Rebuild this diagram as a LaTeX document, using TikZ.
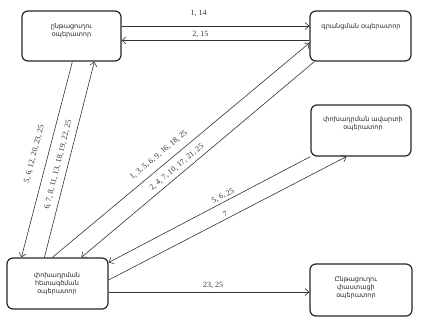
\documentclass[tikz,border=0pt]{standalone}
\usepackage{fontspec}
\setmainfont{Liberation Serif}
\newfontfamily\armfont{DejaVu Sans}
\usetikzlibrary{arrows.meta,calc}
\begin{document}
\begin{tikzpicture}[x=1pt,y=-1pt,
  box/.style={draw=black!85, line width=1.2pt, rounded corners=6pt, inner sep=0pt},
  txt/.style={font=\armfont\fontsize{6.5}{8}\selectfont, align=center, inner sep=0pt, text=black!85},
  conn/.style={draw=black!80, line width=0.6pt, -{Straight Barb[length=4pt,width=7pt]}},
  lab/.style={font=\fontsize{8}{9}\selectfont, inner sep=1pt, text=black!80}]
\useasboundingbox (0,0) rectangle (422,321);
% boxes
\node[box, minimum width=99pt, minimum height=50pt] (A) at (71.5,36) {};
\node[txt] (At) at (71.5,30.5) {ընթացուղու\\օպերատոր};
\node[box, minimum width=101pt, minimum height=50pt] (B) at (360.5,36) {};
\node[txt] (Bt) at (361,27) {գրանցման օպերատոր};
\node[box, minimum width=100pt, minimum height=51pt] (C) at (361,130.5) {};
\node[txt] (Ct) at (363,124) {փոխադրման ավարտի\\օպերատոր};
\node[box, minimum width=101pt, minimum height=51pt] (D) at (57.5,283.5) {};
\node[txt] (Dt) at (57,283.5) {փոխադրման\\հետագծման\\օպերատոր};
\node[box, minimum width=102pt, minimum height=52pt] (E) at (361,290) {};
\node[txt] (Et) at (356,287.5) {Ընթացուղու\\փաստացի\\օպերատոր};
% connectors
\draw[conn] ($(A.east)+(0,-10)$) -- node[lab, pos=0.41, above=8pt] (l1) {1, 14} ($(B.west)+(0,-10)$);
\draw[conn] ($(B.west)+(0,4.5)$) -- node[lab, pos=0.58, above=1pt] (l2) {2, 15} ($(A.east)+(0,4.5)$);
\draw[conn] ($(A.south west)+(51,0)$) -- node[lab, sloped, pos=0.49, above=9pt] (l3) {5, 6, 12, 20, 23, 25} ($(D.north west)+(15,0)$);
\draw[conn] ($(D.north west)+(38,0)$) -- node[lab, sloped, pos=0.46, above=5pt] (l4) {6, 7, 8, 11, 13, 18, 19, 22, 25} ($(A.south west)+(73,0)$);
\draw[conn] ($(D.north west)+(46,0)$) -- node[lab, sloped, pos=0.44, above=6pt] (l5) {1, 3, 5, 6, 9, 16, 18, 25} ($(B.west)+(0,7)$);
\draw[conn] ($(B.south west)+(5,0)$) -- node[lab, sloped, pos=0.57, above=3pt] (l6) {2, 4, 7, 10, 17, 21, 25} ($(D.north west)+(75,0)$);
\draw[conn] (C.south west) -- node[lab, sloped, pos=0.42, above=1pt] (l7) {5, 6, 25} ($(D.east)+(0,-21)$);
\draw[conn] ($(D.east)+(0,-3.5)$) -- node[lab, sloped, pos=0.5, above=1pt] (l8) {7} ($(C.south west)+(36,0)$);
\draw[conn] ($(D.east)+(0,8.5)$) -- node[lab, pos=0.52, above=2pt] (l9) {23, 25} ($(E.west)+(0,2)$);
\end{tikzpicture}
\end{document}
